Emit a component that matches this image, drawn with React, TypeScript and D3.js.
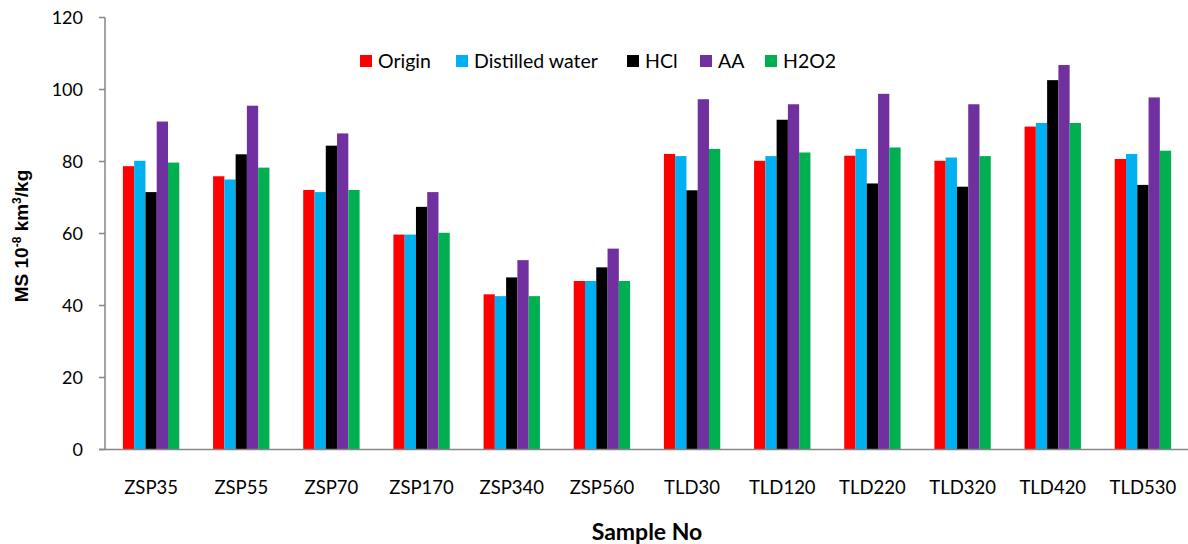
import React from "react";
import * as d3 from "d3";

const categories = ["ZSP35", "ZSP55", "ZSP70", "ZSP170", "ZSP340", "ZSP560", "TLD30", "TLD120", "TLD220", "TLD320", "TLD420", "TLD530"];
const seriesNames = ["Origin", "Distilled water", "HCl", "AA", "H2O2"];
const seriesColors = ["#FF0000", "#00B0F0", "#000000", "#7030A0", "#00B050"];
const origin = [78.7, 75.9, 72.1, 59.7, 43.1, 46.8, 82.1, 80.2, 81.6, 80.2, 89.7, 80.7];
const distilledWater = [80.2, 75.0, 71.5, 59.7, 42.6, 46.8, 81.5, 81.5, 83.5, 81.1, 90.7, 82.1];
const hcl = [71.5, 82.0, 84.4, 67.4, 47.8, 50.6, 72.0, 91.6, 73.9, 73.0, 102.6, 73.5];
const aa = [91.1, 95.5, 87.8, 71.5, 52.6, 55.8, 97.3, 95.9, 98.8, 95.9, 106.8, 97.8];
const h2o2 = [79.7, 78.3, 72.1, 60.2, 42.6, 46.8, 83.5, 82.5, 83.9, 81.5, 90.7, 83.0];
const yTicks = [0, 20, 40, 60, 80, 100, 120];

const seriesValues = [origin, distilledWater, hcl, aa, h2o2];

const W = 1188;
const H = 544;
const FONT = "Lato, 'Liberation Sans', sans-serif";
const ARIAL = "'Liberation Sans', Arial, sans-serif";

export default function App() {
  const axisX = 105;
  const y = d3.scaleLinear().domain([0, 120]).range([449.5, 17.5]);
  const x0 = d3.scaleBand<string>().domain(categories).range([106, 1188]).paddingInner(0.375).paddingOuter(0.1875);
  const x1 = d3.scaleBand<number>().domain(d3.range(seriesNames.length)).range([0, x0.bandwidth()]);

  const legendX = [360, 456, 627, 700, 765];

  return (
    <div style={{ position: "absolute", left: 0, top: 0 }}>
      <svg width={W} height={H} style={{ display: "block", background: "#fff" }}>
        {categories.map((c, i) => (
          <g key={c} transform={`translate(${x0(c)},0)`}>
            {seriesValues.map((vals, s) => (
              <rect
                key={s}
                x={x1(s)}
                y={y(vals[i])}
                width={x1.bandwidth()}
                height={y(0) - y(vals[i])}
                fill={seriesColors[s]}
              />
            ))}
          </g>
        ))}
        <line x1={axisX} x2={axisX} y1={y(120)} y2={y(0)} stroke="#868686" strokeWidth={1.5} />
        {yTicks.map((t) => (
          <g key={t}>
            <line x1={axisX - 6} x2={axisX} y1={y(t)} y2={y(t)} stroke="#868686" strokeWidth={1.5} />
            <text x={83} y={y(t)} dy="0.35em" textAnchor="end" fontFamily={FONT} fontSize={18} fill="#000">
              {t}
            </text>
          </g>
        ))}
        <line x1={axisX - 6} x2={1188} y1={y(0)} y2={y(0)} stroke="#868686" strokeWidth={1.5} />
        {categories.map((c) => (
          <text key={c} x={(x0(c) as number) + x0.bandwidth() / 2} y={488} dy="0.35em" textAnchor="middle" fontFamily={FONT} fontSize={18.5} fill="#000">
            {c}
          </text>
        ))}
        <text x={647} y={532} dy="0.35em" textAnchor="middle" fontFamily={FONT} fontSize={23} fontWeight="bold" fill="#000">
          Sample No
        </text>
        <text transform="translate(21,236) rotate(-90)" textAnchor="middle" dy="0.35em" fontFamily={ARIAL} fontSize={19} fontWeight="bold" fill="#000">
          MS 10<tspan dy="-7" fontSize={12}>-8</tspan>
          <tspan dy="7"> km</tspan>
          <tspan dy="-7" fontSize={12}>3</tspan>
          <tspan dy="7">/kg</tspan>
        </text>
        {seriesNames.map((n, s) => (
          <g key={n} transform={`translate(${legendX[s]},61)`}>
            <rect x={0} y={-6} width={12} height={12} fill={seriesColors[s]} />
            <text x={18} y={0} dy="0.35em" fontFamily={FONT} fontSize={19.5} fill="#000">
              {n}
            </text>
          </g>
        ))}
      </svg>
    </div>
  );
}
